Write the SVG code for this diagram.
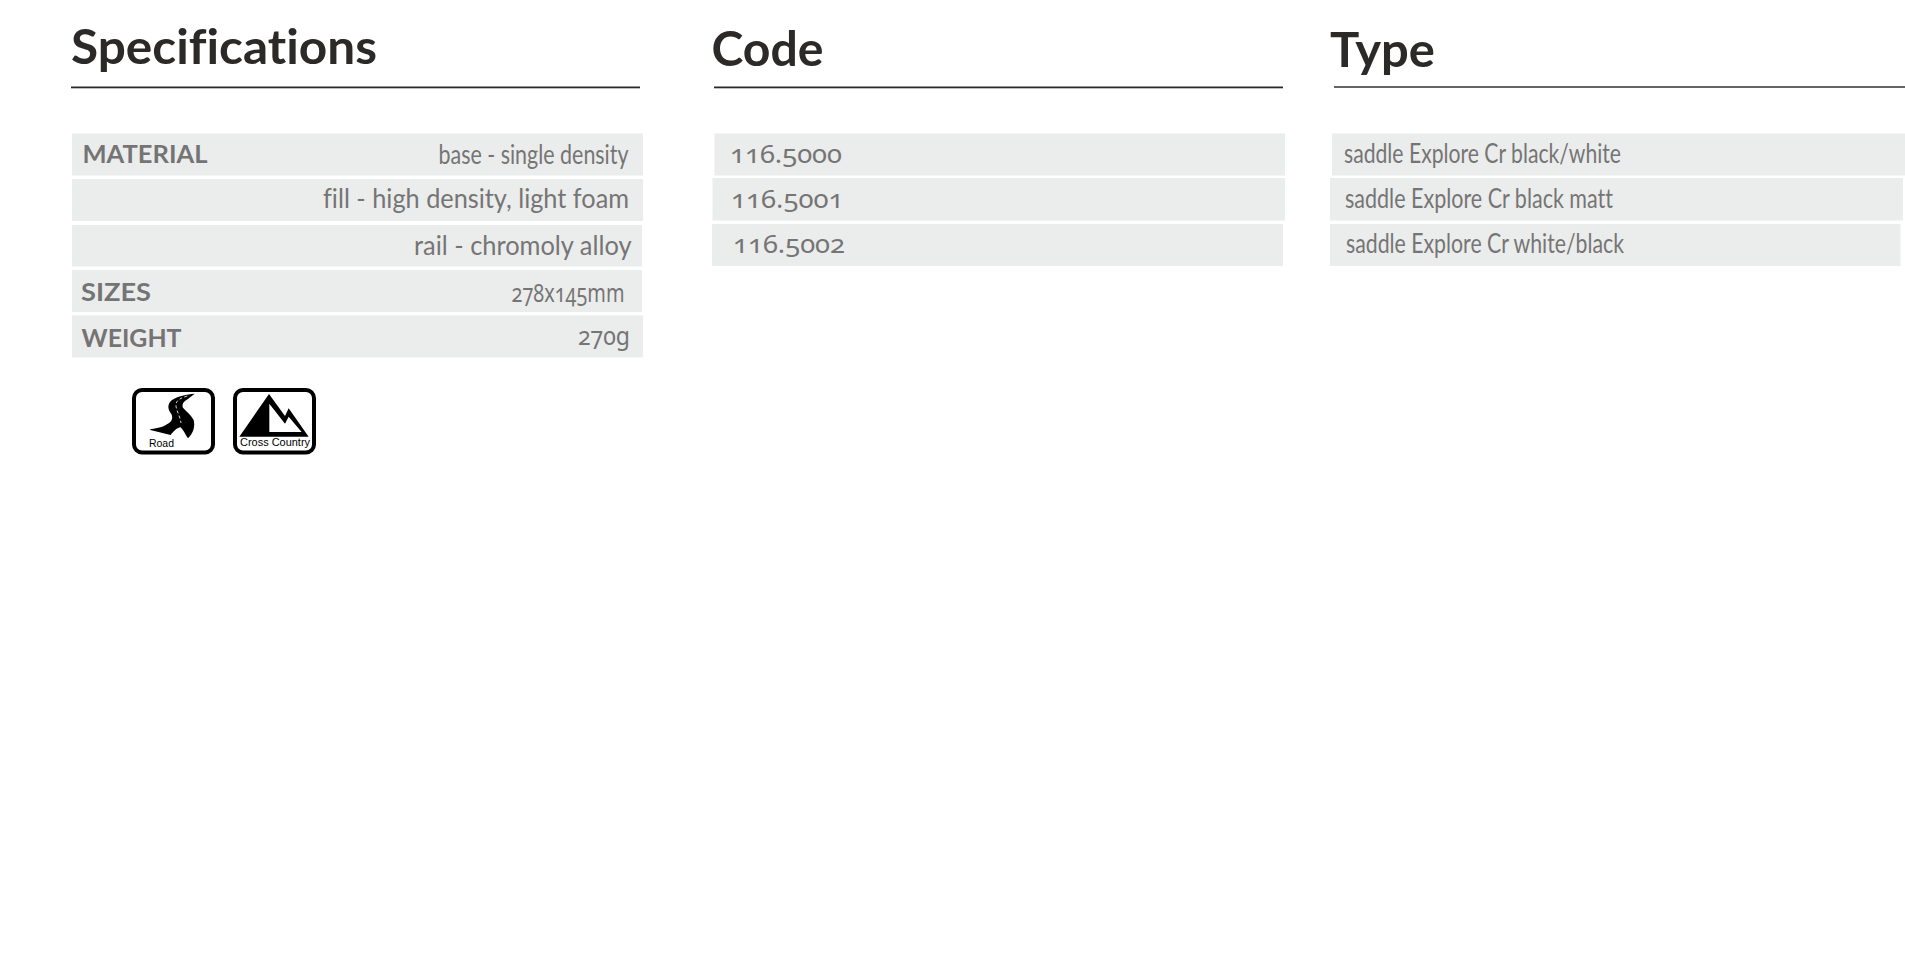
<svg xmlns="http://www.w3.org/2000/svg" width="1905" height="953" viewBox="0 0 1905 953">
<style>
text{font-family:"Lato","Open Sans","Liberation Sans",sans-serif;font-variant-ligatures:none}
.h{font-size:48px;font-weight:700;fill:#2b2a29}
.l{font-size:25px;font-weight:700;fill:#757474}
.v{font-size:26px;fill:#767575;font-feature-settings:"onum"}
.n{font-size:26px;fill:#767575;font-family:"Noto Sans","Lato",sans-serif;font-feature-settings:"onum"}
.r{fill:#ebecec}
.i{font-family:"Liberation Sans",Arial,sans-serif;fill:#000}
.box{fill:#fff;stroke:#000;stroke-width:4}
</style>
<rect width="1905" height="953" fill="#fff"/>
<g id="specifications">
<text class="h" x="71" y="64" textLength="306" lengthAdjust="spacingAndGlyphs">Specifications</text>
<rect x="71" y="86.500" width="569" height="1.800" fill="#2b2a29"/>
<rect class="r" x="72" y="133.500" width="571" height="42"/>
<rect class="r" x="72" y="179" width="571" height="42"/>
<rect class="r" x="72" y="225" width="570" height="41.500"/>
<rect class="r" x="72" y="270" width="570" height="42"/>
<rect class="r" x="72" y="315.500" width="571" height="42"/>
<text class="l" x="82.500" y="163" textLength="125" lengthAdjust="spacingAndGlyphs">MATERIAL</text>
<text class="v" x="438.500" y="163.500" textLength="190" lengthAdjust="spacingAndGlyphs">base - single density</text>
<text class="v" x="323" y="208" textLength="306" lengthAdjust="spacingAndGlyphs">fill - high density, light foam</text>
<text class="v" x="414" y="255" textLength="217.500" lengthAdjust="spacingAndGlyphs">rail - chromoly alloy</text>
<text class="l" x="81" y="301" textLength="70" lengthAdjust="spacingAndGlyphs">SIZES</text>
<text class="n" x="511.500" y="301.500" textLength="113" lengthAdjust="spacingAndGlyphs">278x145mm</text>
<text class="l" x="81.500" y="347" textLength="100" lengthAdjust="spacingAndGlyphs">WEIGHT</text>
<text class="n" x="578" y="344.500" textLength="52" lengthAdjust="spacingAndGlyphs">270g</text>
</g>
<g id="icon-road">
<rect class="box" x="134" y="390" width="79" height="62.500" rx="8"/>
<g transform="translate(130 385) scale(.3333)">
<path d="M194,26C170,28 143,33 126,45C112,56 112,72 124,87C130,100 126,110 111,118C95,129 75,130 58,134L122,150C128,142 140,128 152,127C160,134 165,148 174,160C190,144 196,125 191,105C183,90 170,80 159,68C155,58 160,50 174,42Z" fill="#000"/>
<path d="M172,33C155,38 140,44 138,57C136,72 150,92 153,114" fill="none" stroke="#fff" stroke-width="2.500" stroke-dasharray="9 7"/>
</g>
<text class="i" x="149" y="447" font-size="10.500" textLength="25" lengthAdjust="spacingAndGlyphs">Road</text>
</g>
<g id="icon-cross-country">
<rect class="box" x="235" y="390" width="79" height="62.500" rx="8"/>
<g transform="translate(230 385) scale(.3333)">
<path fill-rule="evenodd" d="M117,27L165,93L176,70L236,155L28,155ZM118,56L118,141L215,141L176,95L165,116Z" fill="#000"/>
</g>
<text class="i" x="240" y="446" font-size="11" textLength="70" lengthAdjust="spacingAndGlyphs">Cross Country</text>
</g>
<g id="code">
<text class="h" x="711.500" y="66" textLength="112" lengthAdjust="spacingAndGlyphs">Code</text>
<rect x="714" y="86.500" width="569" height="1.800" fill="#2b2a29"/>
<rect class="r" x="714.500" y="133.500" width="570.500" height="42"/>
<rect class="r" x="712.500" y="178" width="572.500" height="42.500"/>
<rect class="r" x="712" y="224" width="571" height="42"/>
<text class="n" x="730" y="163" textLength="112" lengthAdjust="spacingAndGlyphs">116.5000</text>
<text class="n" x="731" y="208" textLength="112.500" lengthAdjust="spacingAndGlyphs">116.5001</text>
<text class="n" x="733" y="253" textLength="112" lengthAdjust="spacingAndGlyphs">116.5002</text>
</g>
<g id="type">
<text class="h" x="1330" y="67" textLength="105" lengthAdjust="spacingAndGlyphs">Type</text>
<rect x="1334" y="86" width="571" height="2" fill="#666"/>
<rect class="r" x="1332" y="133.500" width="573" height="42"/>
<rect class="r" x="1330" y="178" width="573" height="42.500"/>
<rect class="r" x="1330" y="224" width="570.500" height="42"/>
<text class="v" x="1344" y="163" textLength="277" lengthAdjust="spacingAndGlyphs">saddle Explore Cr black/white</text>
<text class="v" x="1345" y="208" textLength="268" lengthAdjust="spacingAndGlyphs">saddle Explore Cr black matt</text>
<text class="v" x="1346" y="253" textLength="278" lengthAdjust="spacingAndGlyphs">saddle Explore Cr white/black</text>
</g>
</svg>
